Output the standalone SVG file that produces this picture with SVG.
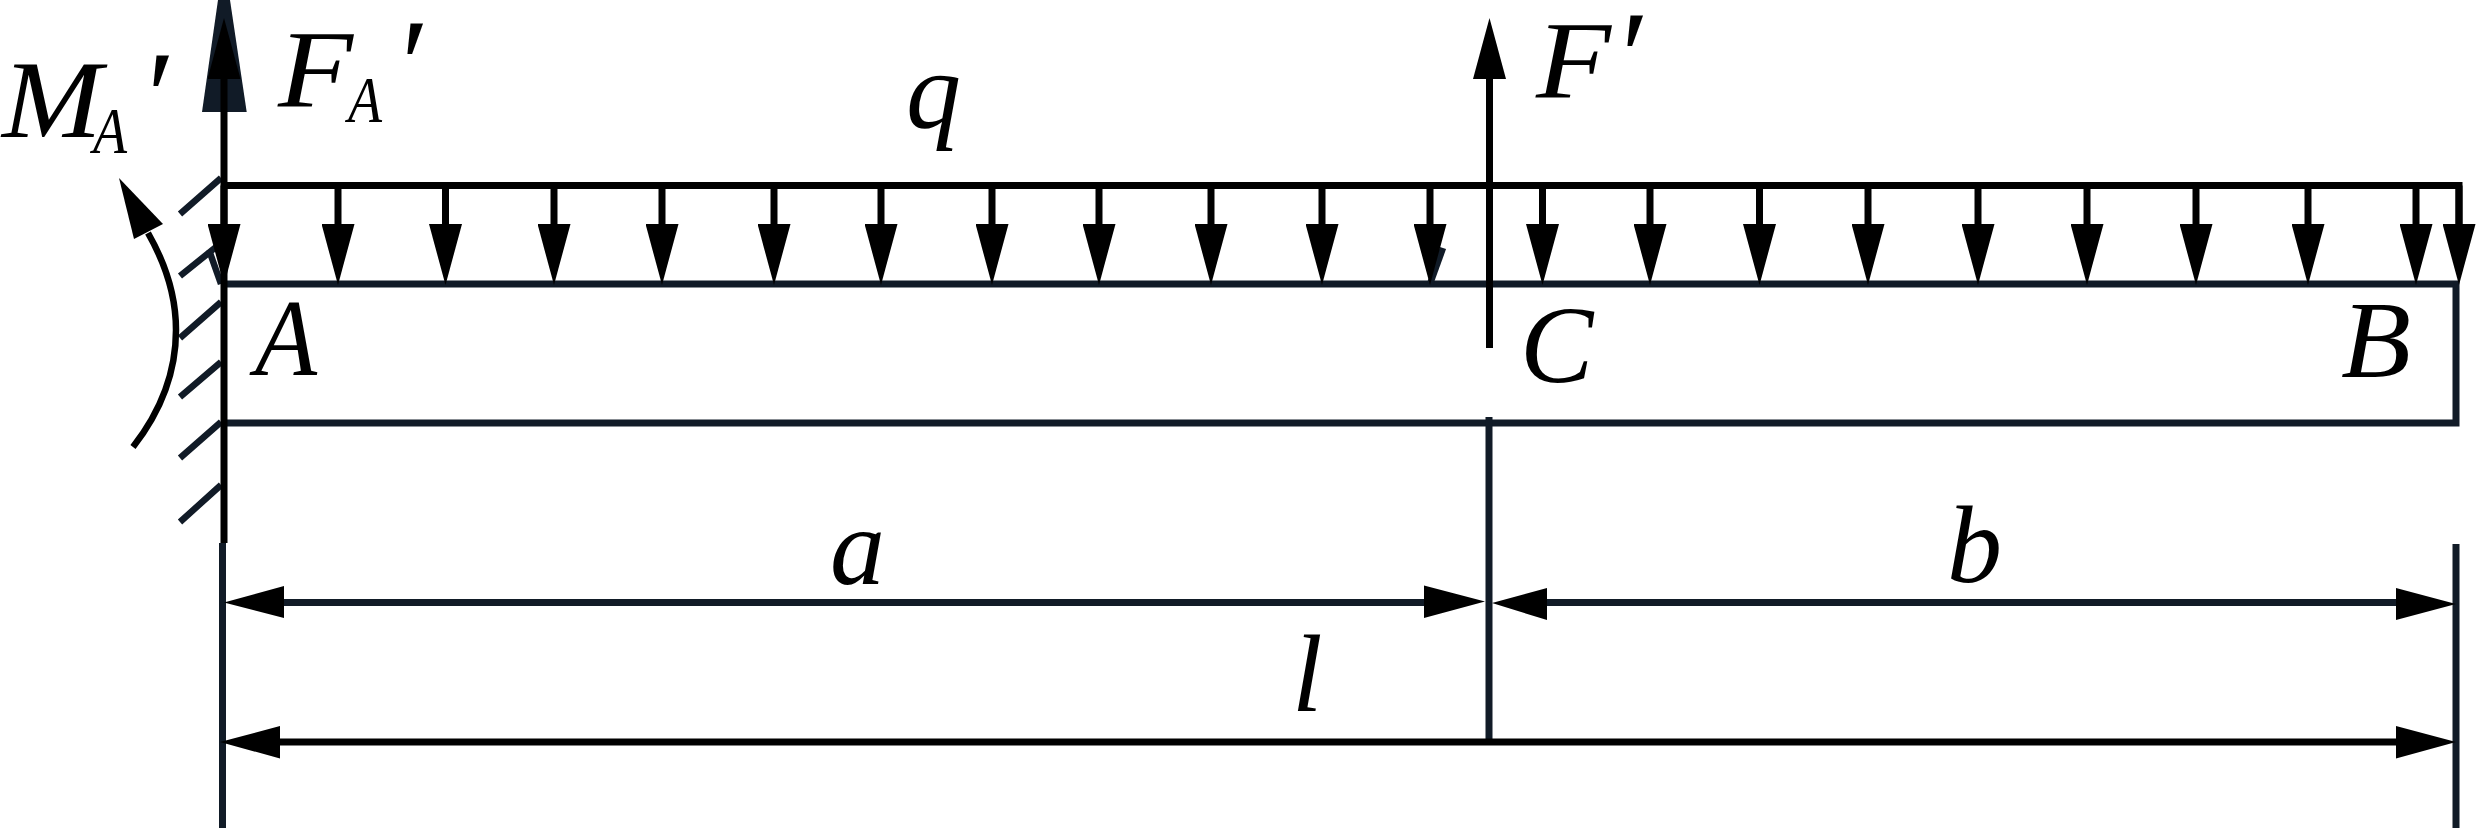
<svg xmlns="http://www.w3.org/2000/svg" width="2476" height="829" viewBox="0 0 2476 829">
<style>
.k{stroke:#000;stroke-width:7;fill:none}
.d{stroke:#111b27;stroke-width:7;fill:none}
.h{stroke:#111b27;stroke-width:6.5;fill:none}
.t{font-family:"Liberation Serif","Times New Roman",serif;font-style:italic;fill:#000;font-size:110px}
.s{font-size:65px}
.p{font-size:130px}
.arr{marker-end:url(#head)}
</style>
<defs>
<marker id="head" markerUnits="userSpaceOnUse" viewBox="0 0 61 33" refX="0" refY="16.5" markerWidth="61" markerHeight="33" orient="auto">
<path d="M0,0L61,16.5L0,33Z" fill="#000"/>
</marker>
</defs>
<rect width="2476" height="829" fill="#fff"/>
<g id="beam">
<path class="d" d="M224,284H2456V423H224"/>
</g>
<g id="wall">
<path class="h" d="M221,178L180,214M221,243L180,276M221,302L180,338M221,362L180,397M221,422L180,458M221,485L180,522"/>
<path class="h" d="M209,250L221,284"/>
</g>
<g id="connectors">
<path class="h" d="M1430,284L1443,248"/>
<path class="k" d="M224,185.500H2459V224"/>
<g class="q">
<path class="k arr" d="M224,185.500V224"/>
<path class="k arr" d="M338,185.500V224"/>
<path class="k arr" d="M445.500,185.500V224"/>
<path class="k arr" d="M554,185.500V224"/>
<path class="k arr" d="M662,185.500V224"/>
<path class="k arr" d="M774,185.500V224"/>
<path class="k arr" d="M881,185.500V224"/>
<path class="k arr" d="M992,185.500V224"/>
<path class="k arr" d="M1099,185.500V224"/>
<path class="k arr" d="M1211,185.500V224"/>
<path class="k arr" d="M1322,185.500V224"/>
<path class="k arr" d="M1430,185.500V224"/>
<path class="k arr" d="M1542.500,185.500V224"/>
<path class="k arr" d="M1650,185.500V224"/>
<path class="k arr" d="M1759.500,185.500V224"/>
<path class="k arr" d="M1868,185.500V224"/>
<path class="k arr" d="M1978,185.500V224"/>
<path class="k arr" d="M2087,185.500V224"/>
<path class="k arr" d="M2196,185.500V224"/>
<path class="k arr" d="M2308,185.500V224"/>
<path class="k arr" d="M2416,185.500V224"/>
<path class="k arr" d="M2459,185.500V224"/>
</g>
<path d="M218,0H230L246.700,112H202Z" fill="#111b27"/>
<path class="k arr" d="M224,543V79"/>
<path class="k arr" d="M1489.500,348V79"/>
<path class="d" d="M1489,417V742"/>
<path class="d" d="M222.500,543V828"/>
<path class="d" d="M2456,544V828"/>
<path class="d" d="M284,602.500H1424"/>
<path class="d" d="M1547,602.500H2396"/>
<path class="k" d="M280,742H2396"/>
<path d="M224,602.500L284,586V618Z M1485,601.500L1424,585.500V618Z M1492,603L1547,588V620Z M2456,604L2396,588V620Z M220,742L280,726V758.500Z M2456,742L2396,726V758.500Z" fill="#000"/>
<path d="M133,447Q176,392 176,330Q176,282 148,233" fill="none" stroke="#000" stroke-width="6.500"/>
<path d="M119,178L163,224L134,239Z" fill="#000"/>
</g>
<g id="label-MA"><text class="t" x="2" y="137" textLength="100" lengthAdjust="spacingAndGlyphs">M</text><text class="t s" x="93" y="153" textLength="34" lengthAdjust="spacingAndGlyphs">A</text><text class="t p" x="139" y="140">′</text></g>
<g id="label-FA"><text class="t" x="278" y="106" textLength="75" lengthAdjust="spacingAndGlyphs">F</text><text class="t s" x="348" y="122" textLength="34" lengthAdjust="spacingAndGlyphs">A</text><text class="t p" x="393" y="108">′</text></g>
<g id="label-q"><text class="t" x="906" y="128">q</text></g>
<g id="label-F"><text class="t" x="1536" y="97" textLength="75" lengthAdjust="spacingAndGlyphs">F</text><text class="t p" x="1613" y="100">′</text></g>
<g id="label-A"><text class="t" x="255" y="375" textLength="62" lengthAdjust="spacingAndGlyphs">A</text></g>
<g id="label-C"><text class="t" x="1520" y="382">C</text></g>
<g id="label-B"><text class="t" x="2341" y="377" textLength="70" lengthAdjust="spacingAndGlyphs">B</text></g>
<g id="label-a"><text class="t" x="830" y="584">a</text></g>
<g id="label-b"><text class="t" x="1947" y="582">b</text></g>
<g id="label-l"><text class="t" x="1292" y="711">l</text></g>
</svg>
